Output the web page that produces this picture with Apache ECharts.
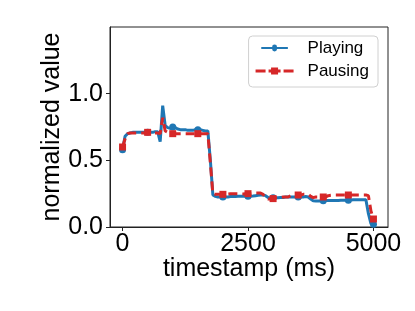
<!DOCTYPE html>
<html>
<head>
<meta charset="utf-8">
<script src="https://cdn.jsdelivr.net/npm/echarts@6/dist/echarts.min.js"></script>
<style>
html,body{margin:0;padding:0;background:#fff;}
#chart{width:415px;height:311px;}
</style>
</head>
<body>
<div id="chart"></div>
<script>
// timestamps (ms), 50 ms step
var timestamps = [
  0,50,100,150,200,250,300,350,400,450,
  500,550,600,650,700,750,800,850,900,950,
  1000,1050,1100,1150,1200,1250,1300,1350,1400,1450,
  1500,1550,1600,1650,1700,1750,1800,1850,1900,1950,
  2000,2050,2100,2150,2200,2250,2300,2350,2400,2450,
  2500,2550,2600,2650,2700,2750,2800,2850,2900,2950,
  3000,3050,3100,3150,3200,3250,3300,3350,3400,3450,
  3500,3550,3600,3650,3700,3750,3800,3850,3900,3950,
  4000,4050,4100,4150,4200,4250,4300,4350,4400,4450,
  4500,4550,4600,4650,4700,4750,4800,4850,4900,4950,
  5000
];
var playing = [
  0.58,0.68,0.70,0.705,0.71,0.71,0.71,0.71,0.71,0.71,
  0.71,0.71,0.71,0.715,0.715,0.64,0.91,0.76,0.745,0.74,
  0.75,0.745,0.735,0.73,0.73,0.73,0.725,0.725,0.725,0.73,
  0.73,0.73,0.725,0.72,0.72,0.50,0.24,0.23,0.225,0.225,
  0.225,0.225,0.225,0.228,0.228,0.228,0.23,0.23,0.23,0.23,
  0.23,0.23,0.232,0.235,0.238,0.24,0.24,0.235,0.222,0.22,
  0.22,0.22,0.22,0.222,0.222,0.225,0.225,0.225,0.225,0.225,
  0.225,0.225,0.225,0.228,0.225,0.21,0.196,0.195,0.195,0.195,
  0.196,0.198,0.198,0.198,0.198,0.198,0.198,0.2,0.2,0.2,
  0.2,0.202,0.205,0.205,0.205,0.205,0.205,0.205,0.10,0.025,
  0.02
];
var pausing = [
  0.60,0.66,0.70,0.705,0.705,0.705,0.705,0.705,0.705,0.705,
  0.71,0.705,0.705,0.705,0.705,0.70,0.82,0.72,0.71,0.705,
  0.70,0.70,0.70,0.70,0.70,0.70,0.70,0.70,0.70,0.70,
  0.70,0.70,0.70,0.70,0.70,0.48,0.25,0.245,0.245,0.245,
  0.245,0.248,0.248,0.25,0.25,0.25,0.25,0.248,0.248,0.25,
  0.25,0.25,0.252,0.255,0.255,0.255,0.245,0.22,0.21,0.21,
  0.213,0.218,0.22,0.222,0.225,0.225,0.225,0.235,0.238,0.24,
  0.24,0.24,0.245,0.245,0.245,0.23,0.22,0.225,0.225,0.225,
  0.225,0.225,0.235,0.238,0.24,0.24,0.24,0.24,0.24,0.24,
  0.24,0.24,0.24,0.24,0.24,0.24,0.24,0.24,0.235,0.12,
  0.06
];
var xTicks = [0, 2500, 5000];
var yTicks = [0, 0.5, 1.0];

function pairs(ts, vs){ return ts.map(function(t,i){ return [t, vs[i]]; }); }

// legend handles: line + marker (38 x 7 box)
var iconPlaying = 'path://M0 2 H15.5 A3.5 3.5 0 0 1 22.5 2 H38 V5 H22.5 A3.5 3.5 0 0 1 15.5 5 H0 Z';
var iconPausing = 'path://M0 2 H10 V5 H0 Z M15.5 0 H22.5 V2 H25 V5 H22.5 V7 H15.5 V5 H13 V2 H15.5 Z M28 2 H38 V5 H28 Z';

var FONT = 'Liberation Sans, Arial, sans-serif';
var chart = echarts.init(document.getElementById('chart'), null, {renderer:'canvas'});
chart.setOption({
  animation: false,
  backgroundColor: '#ffffff',
  grid: {left: 110, top: 27, right: 27, bottom: 84, show: true, borderColor: '#222', borderWidth: 1, backgroundColor: 'transparent'},
  legend: {
    orient: 'vertical', right: 37, top: 36,
    itemWidth: 38, itemHeight: 7, itemGap: 3,
    padding: [2, 9, 6, 7],
    borderColor: '#d0d0d0', borderWidth: 1, borderRadius: 4,
    textStyle: {fontFamily: FONT, fontSize: 17, color: '#000', lineHeight: 20, padding: [0, 0, 0, 9]},
    data: [{name: 'Playing', icon: iconPlaying}, {name: 'Pausing', icon: iconPausing}]
  },
  xAxis: {
    type: 'value', min: -250, max: 5290,
    name: 'timestamp (ms)', nameLocation: 'middle', nameGap: 30, nameMoveOverlap: false,
    nameTextStyle: {fontFamily: FONT, fontSize: 25, color: '#000'},
    axisLine: {show: true, onZero: false, lineStyle: {color: '#222', width: 1}},
    axisTick: {show: true, length: 4, customValues: xTicks, lineStyle: {color: '#222'}},
    axisLabel: {customValues: xTicks, fontFamily: FONT, fontSize: 25, color: '#000', margin: 5,
      formatter: function(v){ return String(v); }},
    splitLine: {show: false}
  },
  yAxis: {
    type: 'value', min: 0, max: 1.5,
    name: 'normalized value', nameLocation: 'middle', nameGap: 45, nameRotate: 90, nameMoveOverlap: false,
    nameTextStyle: {fontFamily: FONT, fontSize: 25, color: '#000'},
    axisLine: {show: true, onZero: false, lineStyle: {color: '#222', width: 1}},
    axisTick: {show: true, length: 4, customValues: yTicks, lineStyle: {color: '#222'}},
    axisLabel: {customValues: yTicks, fontFamily: FONT, fontSize: 25, color: '#000', margin: 7,
      formatter: function(v){ return v.toFixed(1); }},
    splitLine: {show: false}
  },
  series: [
    {
      name: 'Playing', type: 'line', data: pairs(timestamps, playing),
      showAllSymbol: true,
      symbol: function(v, p){ return p.dataIndex % 10 === 0 ? 'circle' : 'none'; },
      symbolSize: 7,
      lineStyle: {color: '#1f77b4', width: 3},
      itemStyle: {color: '#1f77b4', borderWidth: 0},
      z: 2
    },
    {
      name: 'Pausing', type: 'line', data: pairs(timestamps, pausing),
      showAllSymbol: true,
      symbol: function(v, p){ return p.dataIndex % 10 === 0 ? 'rect' : 'none'; },
      symbolSize: 7,
      lineStyle: {color: '#d62728', width: 3, type: [9, 5]},
      itemStyle: {color: '#d62728', borderWidth: 0},
      z: 3
    }
  ]
});
</script>
</body>
</html>
